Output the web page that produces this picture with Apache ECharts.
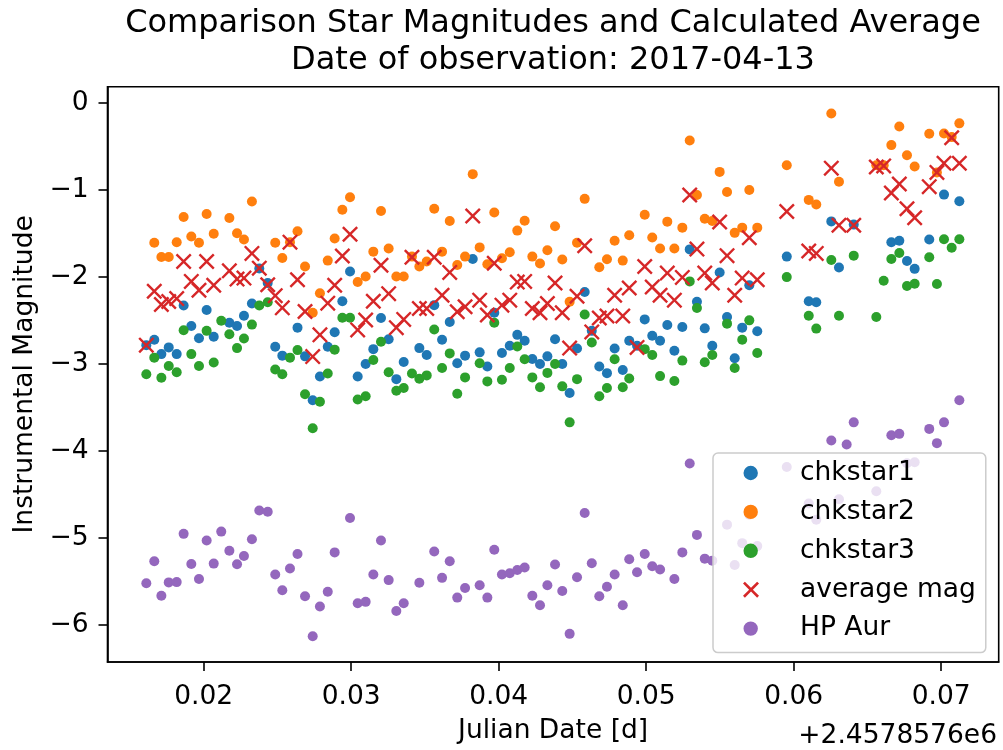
<!DOCTYPE html>
<html>
<head>
<meta charset="utf-8">
<script src="https://cdn.jsdelivr.net/npm/echarts@6/dist/echarts.min.js"></script>
<style>html,body{margin:0;padding:0;background:#fff}#c{width:1003px;height:750px}</style>
</head>
<body>
<div id="c"></div>
<script>
// Julian Date offsets (d), relative to +2.4578576e6
const jd = [0.01611,0.01665,0.01713,0.01763,0.01817,0.01864,0.01916,0.01968,0.02020,0.02068,
0.02119,0.02174,0.02226,0.02273,0.02327,0.02377,0.02434,0.02485,0.02533,0.02585,
0.02636,0.02687,0.02739,0.02788,0.02841,0.02888,0.02940,0.02992,0.03044,0.03098,
0.03150,0.03202,0.03254,0.03306,0.03356,0.03412,0.03462,0.03512,0.03563,0.03616,
0.03668,0.03719,0.03772,0.03824,0.03871,0.03923,0.03970,0.04022,0.04075,0.04126,
0.04176,0.04228,0.04280,0.04330,0.04382,0.04431,0.04481,0.04531,0.04583,0.04631,
0.04682,0.04734,0.04786,0.04841,0.04885,0.04938,0.04990,0.05041,0.05094,0.05143,
0.05191,0.05245,0.05295,0.05344,0.05397,0.05448,0.05498,0.05548,0.05600,0.05651,
0.05699,0.05753,0.05953,0.06102,0.06153,0.06255,0.06307,0.06359,0.06407,0.06560,
0.06610,0.06662,0.06716,0.06768,0.06820,0.06919,0.06971,0.07019,0.07071,0.07123];

const chkstar1 = [-2.786,-2.725,-2.889,-2.812,-2.889,-2.331,-2.565,-2.706,-2.383,-2.690,
null,-2.528,-2.565,-2.448,-2.308,-1.905,-2.072,-2.804,-2.907,null,
-2.585,-2.915,-3.419,-3.146,-2.804,-2.638,-2.281,-1.939,-3.146,-3.002,
-2.832,-2.474,-2.718,-3.177,-2.980,null,-2.820,-2.900,-2.326,-2.725,
-2.520,-2.994,-2.907,-1.796,-2.869,-3.032,-2.414,-2.877,-2.793,-2.668,
-2.736,-2.945,-3.002,-2.915,-2.718,-3.002,-3.336,-2.824,-2.175,-2.622,
-3.032,-3.108,-2.824,-3.071,-2.736,-2.793,-2.490,-2.679,-2.736,-2.554,
-2.850,-2.577,-1.685,-2.288,-2.593,-2.793,-1.950,-2.463,-2.937,-2.585,
-2.098,-2.627,-1.768,-2.281,-2.292,-1.363,-1.893,null,-1.400,null,
null,-1.602,-1.586,-1.818,-1.909,-1.571,null,-1.055,null,-1.131];

const chkstar2 = [null,-1.609,-1.773,-1.773,-1.602,-1.313,-1.537,-1.609,-1.279,-1.506,
null,-1.324,-1.500,-1.571,-1.135,null,null,-1.609,-1.784,-1.602,
-1.477,-1.882,-2.414,-2.189,-1.814,-1.560,-1.230,-1.085,-2.061,-1.996,
-1.711,-1.244,-1.674,-1.996,-1.996,-1.768,-1.882,-1.825,-1.218,-1.711,
-1.358,-1.864,-1.768,-0.820,-1.662,-1.856,-1.260,-1.788,-1.719,-1.469,
-1.355,-1.768,-1.848,-1.696,-1.420,-1.802,-2.288,-1.609,-1.104,null,
-1.890,-1.799,-1.586,-1.814,-1.522,null,-1.287,-1.548,-1.674,-1.366,
-1.674,-1.435,-0.433,-1.059,-1.332,-1.358,-0.794,-1.025,-1.495,-1.435,
-1.002,-1.435,-0.717,-1.116,-1.169,-0.122,-0.907,null,null,-0.717,
-0.717,-0.486,-0.273,-0.603,-0.732,-0.356,-0.800,-0.353,-0.394,-0.236];

const chkstar3 = [-3.120,-2.930,-3.162,-3.025,-3.097,-2.615,-2.889,-3.025,-2.622,-2.986,
-2.505,-2.661,-2.820,-2.710,-2.550,-2.331,-2.292,-3.066,-3.120,-2.930,
-2.843,-3.351,-3.742,-3.438,-3.112,-2.838,-2.471,-2.471,-3.412,-3.374,
-2.957,-2.747,-3.097,-3.310,-3.279,-3.112,-3.173,-3.134,-2.607,-3.048,
-2.881,-3.344,-3.157,null,-2.994,-3.203,-2.528,-3.185,-3.048,-2.801,
-2.949,-3.157,-3.271,-3.105,-3.002,-3.260,-3.674,-3.177,-2.433,-2.755,
-3.374,-3.279,-2.949,-3.271,-3.169,null,-2.832,-2.900,-3.142,null,
-3.199,-2.964,-2.053,-2.360,-2.983,-2.900,null,-2.539,-3.048,-2.725,
-2.501,-2.877,-2.004,-2.448,-2.596,-1.807,-2.448,null,-1.757,-2.463,
-2.046,-1.796,-1.727,-2.106,-2.080,-1.776,-2.084,-1.568,-1.666,-1.569];

const averageMag = [-2.786,-2.167,-2.319,-2.285,-2.251,-1.825,-2.053,-2.155,-1.825,-2.098,
null,-1.932,-2.027,-2.015,-1.731,-1.901,-2.092,-2.217,-2.357,-1.602,
-2.035,-2.399,-2.918,-2.668,-2.303,-2.098,-1.761,-1.511,-2.611,-2.497,
-2.281,-1.867,-2.194,-2.585,-2.490,-1.776,-2.365,-2.365,-1.776,-2.212,
-1.950,-2.402,-2.345,-1.301,-2.269,-2.440,-1.844,-2.326,-2.269,-2.061,
-2.053,-2.365,-2.414,-2.308,-2.072,-2.414,-2.820,-2.224,-1.643,-2.634,
-2.474,-2.451,-2.212,-2.451,-2.129,-2.812,-1.882,-2.118,-2.212,-1.958,
-2.269,-2.007,-1.059,-1.682,-1.958,-2.072,-1.370,-1.757,-2.212,-2.015,
-1.552,-2.035,-1.249,-1.704,-1.731,-0.751,-1.408,null,-1.408,-0.737,
-0.725,-1.036,-0.934,-1.218,-1.321,-0.964,-0.800,-0.695,-0.402,-0.695];

const hpAur = [-5.525,-5.272,-5.667,-5.514,-5.511,-4.956,-5.302,-5.476,-5.032,-5.298,
-4.930,-5.150,-5.306,-5.211,-5.018,-4.687,-4.702,-5.423,-5.605,-5.355,
-5.188,-5.674,-6.133,-5.792,-5.621,-5.169,null,-4.774,-5.753,-5.738,
-5.423,-5.032,-5.488,-5.844,-5.753,null,-5.519,null,-5.158,-5.462,
-5.272,-5.689,-5.579,null,-5.548,-5.689,-5.138,-5.423,-5.408,-5.371,
-5.343,-5.667,-5.776,-5.548,-5.309,-5.613,-6.106,-5.454,-4.717,-5.294,
-5.674,-5.564,-5.423,-5.776,-5.249,-5.397,-5.188,-5.328,-5.366,null,
-5.476,-5.169,-4.148,-4.968,-5.241,-5.264,null,-4.850,-5.314,-5.063,
-4.736,-5.097,-4.187,-4.608,-4.793,-3.882,-4.558,-3.928,-3.674,-4.467,
null,-3.822,-3.806,-4.144,-4.133,-3.749,-3.913,-3.674,null,-3.419];

const seriesNames = ['chkstar1','chkstar2','chkstar3','average mag','HP Aur'];
const seriesColors = ['#1f77b4','#ff7f0e','#2ca02c','#d62728','#9467bd'];
const xTicks = [0.02,0.03,0.04,0.05,0.06,0.07];
const yTicks = [-6,-5,-4,-3,-2,-1,0];
const titleLines = ['Comparison Star Magnitudes and Calculated Average','Date of observation: 2017-04-13'];
const xOffsetText = '+2.4578576e6';

function pairs(vals){ return jd.map((t,i)=> vals[i]==null ? null : [t, vals[i]]).filter(p=>p); }

const XPATH = 'path://M10.6,0 L50,39.4 L89.4,0 L100,10.6 L60.6,50 L100,89.4 L89.4,100 L50,60.6 L10.6,100 L0,89.4 L39.4,50 L0,10.6 Z';
// legend icons: bounding specks fix the icon box so the marker sits where the reference shows it
const LEG_CIRCLE = 'path://M0,0h0.01v0.01z M78,16h-0.01v-0.01z M40.9,8 A7.2,7.2,0,1,1,26.5,8 A7.2,7.2,0,1,1,40.9,8 Z';
const LEG_X = 'path://M0,0h0.01v0.01z M78,16h-0.01v-0.01z M27.2,-1 L33.7,5.5 L40.2,-1 L42.2,1 L35.7,7.5 L42.2,14 L40.2,16 L33.7,9.5 L27.2,16 L25.2,14 L31.7,7.5 L25.2,1 Z';

const FONT = 'DejaVu Sans';
const allVals = [chkstar1, chkstar2, chkstar3, averageMag, hpAur];

const chart = echarts.init(document.getElementById('c'), null, {renderer:'canvas'});
chart.setOption({
  animation: false,
  backgroundColor: '#ffffff',
  textStyle: {fontFamily: FONT, color: '#000'},
  grid: {left: 107.5, top: 86.7, right: 4.3, bottom: 82.3, show: true, borderColor: '#000', borderWidth: 1.6, backgroundColor: 'transparent'},
  xAxis: {
    type: 'value', min: 0.013478, max: 0.073898,
    name: 'Julian Date [d]', nameLocation: 'middle', nameGap: 56,
    nameTextStyle: {fontSize: 26.5, color: '#000', fontFamily: FONT},
    axisLine: {show: true, onZero: false, lineStyle: {color: '#000', width: 1.6}},
    axisTick: {show: true, inside: false, length: 9, lineStyle: {color: '#000', width: 1.6}, customValues: xTicks},
    axisLabel: {show: true, margin: 22, fontSize: 26.5, color: '#000', fontFamily: FONT, customValues: xTicks,
      formatter: v => v.toFixed(2)},
    splitLine: {show: false}
  },
  yAxis: {
    type: 'value', min: -6.4295, max: 0.1856,
    name: 'Instrumental Magnitude', nameLocation: 'middle', nameGap: 58, nameRotate: 90,
    nameTextStyle: {fontSize: 26.5, color: '#000', fontFamily: FONT},
    axisLine: {show: true, onZero: false, lineStyle: {color: '#000', width: 1.6}},
    axisTick: {show: true, inside: false, length: 9, lineStyle: {color: '#000', width: 1.6}, customValues: yTicks},
    axisLabel: {show: true, margin: 19, fontSize: 26.5, color: '#000', fontFamily: FONT, customValues: yTicks,
      formatter: v => v < 0 ? '\u2212' + Math.abs(v) : String(v)},
    splitLine: {show: false}
  },
  legend: {
    orient: 'vertical', left: 713, top: 453,
    padding: [5, 10, 9, 4], itemGap: 8.9, itemWidth: 78, itemHeight: 16,
    backgroundColor: 'rgba(255,255,255,0.8)', borderColor: '#cccccc', borderWidth: 1.5, borderRadius: 5,
    textStyle: {fontSize: 26.5, color: '#000', fontFamily: FONT, lineHeight: 30},
    selectedMode: false,
    data: seriesNames.map((n,i)=>({name: n, icon: i === 3 ? LEG_X : LEG_CIRCLE}))
  },
  graphic: [
    {type: 'text', x: 553, y: 24, silent: true, style: {text: titleLines[0], fontSize: 32, fontFamily: FONT, fill: '#000', align: 'center', verticalAlign: 'middle'}},
    {type: 'text', x: 553, y: 61, silent: true, style: {text: titleLines[1], fontSize: 32, fontFamily: FONT, fill: '#000', align: 'center', verticalAlign: 'middle'}},
    {type: 'text', x: 997, y: 736, silent: true, style: {text: xOffsetText, fontSize: 26.5, fontFamily: FONT, fill: '#000', align: 'right', verticalAlign: 'middle'}}
  ],
  series: seriesNames.map((n,i)=>({
    name: n, type: 'scatter',
    data: pairs(allVals[i]),
    symbol: i === 3 ? XPATH : 'circle',
    symbolSize: i === 3 ? 16 : 10,
    itemStyle: {color: seriesColors[i], opacity: 1},
    emphasis: {disabled: true},
    z: 2 + i * 0.01
  }))
});
</script>
</body>
</html>
